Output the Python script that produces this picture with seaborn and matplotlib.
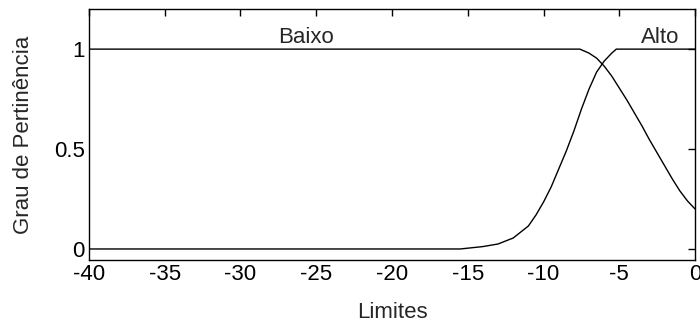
import pandas as pd
import seaborn as sns
import matplotlib.pyplot as plt

# membership curves
baixo_x = [-40, -7.6, -7.0, -6.5, -6.0, -5.5, -5.0, -4.5, -4.0, -3.5, -3.0,
           -2.5, -2.0, -1.5, -1.0, -0.5, 0]
baixo_y = [1, 1, 0.98, 0.955, 0.915, 0.865, 0.805, 0.745, 0.68, 0.615, 0.545,
           0.48, 0.415, 0.35, 0.29, 0.24, 0.2]

alto_x = [-40, -15.5, -14.0, -13.0, -12.0, -11.0, -10.5, -10.0, -9.5, -9.0,
          -8.5, -8.0, -7.5, -7.0, -6.5, -6.0, -5.5, -5.2, 0]
alto_y = [0, 0, 0.012, 0.025, 0.055, 0.115, 0.17, 0.235, 0.31, 0.4,
          0.49, 0.59, 0.7, 0.8, 0.885, 0.94, 0.98, 1, 1]

x_ticks = [-40, -35, -30, -25, -20, -15, -10, -5, 0]
y_ticks = [0, 0.5, 1]
y_tick_labels = ["0", "0.5", "1"]

sns.set_style("white")
plt.rcParams['font.family'] = ['Liberation Sans', 'DejaVu Sans']

df = pd.concat([
    pd.DataFrame({"x": baixo_x, "y": baixo_y, "set": "Baixo"}),
    pd.DataFrame({"x": alto_x, "y": alto_y, "set": "Alto"}),
])

fig, ax = plt.subplots(figsize=(7, 3.27), dpi=100)
fig.subplots_adjust(left=0.127, right=0.993, top=0.972, bottom=0.205)

sns.lineplot(data=df, x="x", y="y", units="set", estimator=None,
             color="black", linewidth=1, ax=ax, legend=False, sort=False)

fs = 16
ax.text(-25.7, 1.06, "Baixo", ha="center", va="center", fontsize=fs)
ax.text(-2.3, 1.06, "Alto", ha="center", va="center", fontsize=fs)

ax.set_xlim(-40, 0)
ax.set_ylim(-0.055, 1.2)
ax.set_xticks(x_ticks)
ax.set_xticklabels([str(t) for t in x_ticks])
ax.set_yticks(y_ticks)
ax.set_yticklabels(y_tick_labels)
ax.tick_params(direction="in", length=5, width=1, top=True, right=True,
               labelsize=fs, colors="black", pad=3)
for s in ax.spines.values():
    s.set_color("black")
    s.set_linewidth(1)
ax.set_xlabel("Limites", fontsize=fs, labelpad=12)
ax.set_ylabel("Grau de Pertinência", fontsize=fs, labelpad=14)

fig.savefig("out.png", dpi=100, facecolor="white")
